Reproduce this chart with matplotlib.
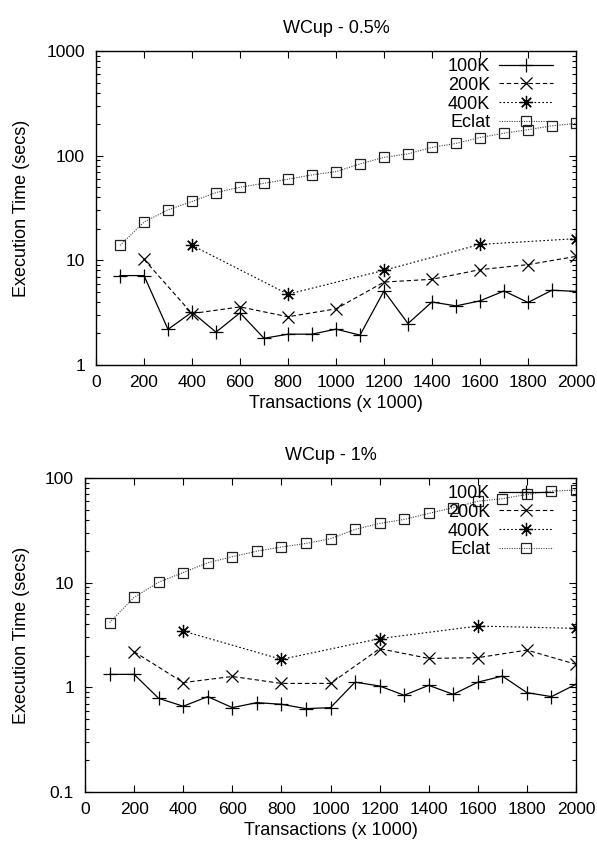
import matplotlib
matplotlib.use("Agg")
import matplotlib.pyplot as plt
from matplotlib.ticker import FixedLocator, FixedFormatter, LogLocator, NullFormatter

plt.rcParams['font.family'] = ['Liberation Sans', 'DejaVu Sans']
plt.rcParams['font.size'] = 13

# ---- data: WCup - 0.5% ----
x_all = [100, 200, 300, 400, 500, 600, 700, 800, 900, 1000,
         1100, 1200, 1300, 1400, 1500, 1600, 1700, 1800, 1900, 2000]
x_200 = [200, 400, 600, 800, 1000, 1200, 1400, 1600, 1800, 2000]
x_400 = [400, 800, 1200, 1600, 2000]

a_100k = [7.15, 7.15, 2.19, 3.2, 2.06, 3.15, 1.8, 1.97, 1.97, 2.2,
          1.93, 5.1, 2.49, 4.0, 3.67, 4.1, 5.1, 3.96, 5.18, 5.05]
a_200k = [10.2, 3.1, 3.59, 2.89, 3.44, 6.2, 6.59, 8.15, 9.1, 10.9]
a_400k = [13.9, 4.75, 8.03, 14.2, 16.1]
a_eclat = [13.9, 23.2, 30.4, 36.5, 44.4, 49.9, 54.5, 59.5, 65.5, 70.4,
           83.4, 96.4, 104, 120, 131, 149, 164, 177, 193, 203]

# ---- data: WCup - 1% ----
b_100k = [1.33, 1.33, 0.785, 0.66, 0.815, 0.64, 0.714, 0.689, 0.626, 0.64,
          1.12, 1.03, 0.84, 1.045, 0.857, 1.12, 1.28, 0.89, 0.815, 1.07]
b_200k = [2.19, 1.11, 1.27, 1.09, 1.09, 2.34, 1.89, 1.92, 2.27, 1.66]
b_400k = [3.45, 1.85, 2.92, 3.85, 3.66]
b_eclat = [4.15, 7.24, 10.1, 12.5, 15.5, 17.7, 20.0, 21.9, 23.7, 26.3,
           32.3, 36.8, 40.2, 45.9, 52, 60, 63.4, 69.7, 75, 76.6]

labels = ["100K", "200K", "400K", "Eclat"]
x_ticks = [0, 200, 400, 600, 800, 1000, 1200, 1400, 1600, 1800, 2000]
top_yticks = [1, 10, 100, 1000]
top_ylabels = ["1", "10", "100", "1000"]
bot_yticks = [0.1, 1, 10, 100]
bot_ylabels = ["0.1", "1", "10", "100"]

W, H = 597, 846
DPI = 100
fig = plt.figure(figsize=(W / DPI, H / DPI), dpi=DPI)

ast = (8, 2, 0)


def panel(rect, title, d100, d200, d400, dec, yticks, ylabels, ylim):
    ax = fig.add_axes(rect)
    ax.set_yscale('log')
    ax.plot(x_all, d100, color='black', lw=0.9, ls='-', marker='+',
            ms=10, mew=0.9, label=labels[0])
    ax.plot(x_200, d200, color='black', lw=0.8, ls=(0, (4, 2.5)), marker='x',
            ms=8, mew=0.9, label=labels[1])
    ax.plot(x_400, d400, color='black', lw=0.8, ls=(0, (1.5, 2)), marker=ast,
            ms=9.5, mew=0.9, label=labels[2])
    ax.plot(x_all, dec, color='#444444', lw=0.8, ls=(0, (1, 1.2)), marker='s',
            ms=7.5, mew=0.9, mfc='none', mec='#222222', label=labels[3])
    ax.set_xlim(0, 2000)
    ax.set_ylim(*ylim)
    ax.xaxis.set_major_locator(FixedLocator(x_ticks))
    ax.yaxis.set_major_locator(FixedLocator(yticks))
    ax.yaxis.set_major_formatter(FixedFormatter(ylabels))
    ax.yaxis.set_minor_locator(LogLocator(base=10, subs=range(2, 10)))
    ax.yaxis.set_minor_formatter(NullFormatter())
    ax.tick_params(which='both', direction='in', top=True, right=True,
                   labelsize=12.5, width=0.8)
    ax.tick_params(which='major', length=5)
    ax.tick_params(axis='x', which='major', pad=7)
    ax.tick_params(axis='y', which='major', pad=8)
    ax.tick_params(which='minor', length=3)
    for s in ax.spines.values():
        s.set_linewidth(1.0)
    ax.set_title(title, fontsize=13, pad=13)
    ax.set_xlabel("Transactions (x 1000)", fontsize=13, labelpad=4)
    ax.set_ylabel("Execution Time (secs)", fontsize=13)
    wpx = rect[2] * W
    lpx = rect[0] * W
    ax.yaxis.set_label_coords((30 - lpx) / wpx, 0.5)
    leg = ax.legend(loc='upper right', frameon=False, markerfirst=False,
                    bbox_to_anchor=(1 - 23 / wpx, 1 - 7 / (rect[3] * H)),
                    borderaxespad=0, borderpad=0, handlelength=3.0,
                    handletextpad=1.0, labelspacing=0.1, fontsize=13)
    fig.canvas.draw()
    r = fig.canvas.get_renderer()
    shift = max(t.get_window_extent(r).width for t in leg.get_texts()) * 72 / DPI
    for t in leg.get_texts():
        t.set_ha('right')
        t.set_position((shift - 21, 0))
    return ax


panel([96 / W, 1 - 365 / H, 480 / W, 314 / H], "WCup - 0.5%",
      a_100k, a_200k, a_400k, a_eclat, top_yticks, top_ylabels, (1, 1000))
panel([85 / W, 1 - 792 / H, 491 / W, 314 / H], "WCup - 1%",
      b_100k, b_200k, b_400k, b_eclat, bot_yticks, bot_ylabels, (0.1, 100))

fig.savefig("out.png", dpi=DPI)
